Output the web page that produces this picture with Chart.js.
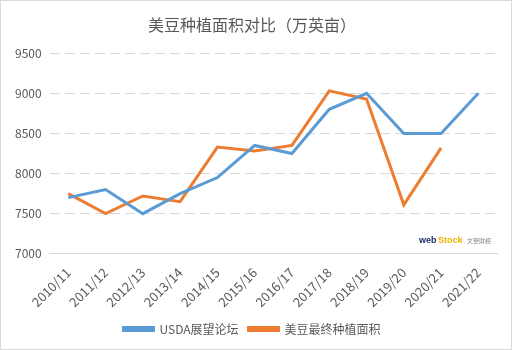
<!DOCTYPE html>
<html>
<head>
<meta charset="utf-8">
<script src="https://cdn.jsdelivr.net/npm/chart.js@4"></script>
<style>
  html, body { margin: 0; padding: 0; background: #fff; }
  #wrap { width: 510px; height: 348px; border: 1px solid #d9d9d9; }
</style>
</head>
<body>
<div id="wrap"><canvas id="areaChart" width="510" height="348"></canvas></div>
<script>
const seasons = ['2010/11', '2011/12', '2012/13', '2013/14', '2014/15', '2015/16',
                 '2016/17', '2017/18', '2018/19', '2019/20', '2020/21', '2021/22'];
const usdaForum = [7700, 7800, 7500, 7750, 7950, 8350, 8250, 8800, 9000, 8500, 8500, 9000];
const finalArea = [7750, 7500, 7720, 7650, 8330, 8280, 8350, 9030, 8930, 7610, 8320, null];
const yTicks = [7000, 7500, 8000, 8500, 9000, 9500];

const font = "'Noto Sans CJK SC', 'Open Sans', sans-serif";

// small watermark in the lower right corner
const watermark = {
    id: 'watermark',
    afterDraw(chart) {
        const c = chart.ctx, a = chart.chartArea;
        c.save();
        c.font = "bold 9px 'Liberation Sans', sans-serif";
        c.fillStyle = '#1f2f6b';
        c.fillText('web', a.right - 78, a.bottom - 13);
        c.fillStyle = '#e8b400';
        c.fillText('Stock', a.right - 59, a.bottom - 13);
        c.font = "6px " + font;
        c.fillStyle = '#888';
        c.fillText('文華財經', a.right - 30, a.bottom - 13);
        c.restore();
    }
};

const ctx = document.getElementById('areaChart').getContext('2d');
new Chart(ctx, {
    type: 'line',
    data: {
        labels: seasons,
        datasets: [{
            label: 'USDA展望论坛',
            data: usdaForum,
            borderColor: '#5B9BD5',
            backgroundColor: '#5B9BD5',
            borderWidth: 3,
            pointRadius: 0,
            tension: 0
        }, {
            label: '美豆最终种植面积',
            data: finalArea,
            borderColor: '#ED7D31',
            backgroundColor: '#ED7D31',
            borderWidth: 3,
            pointRadius: 0,
            tension: 0
        }]
    },
    options: {
        responsive: false,
        animation: false,
        layout: { padding: { left: 6, right: 14, top: 4, bottom: 4 } },
        plugins: {
            title: {
                display: true,
                text: '美豆种植面积对比（万英亩）',
                color: '#595959',
                font: { family: font, size: 16, weight: 'normal' },
                padding: { top: 10, bottom: 19 }
            },
            legend: {
                position: 'bottom',
                labels: {
                    color: '#595959',
                    font: { family: font, size: 12 },
                    boxWidth: 30,
                    boxHeight: 3,
                    padding: 10
                }
            },
            tooltip: { enabled: false }
        },
        scales: {
            x: {
                offset: true,
                grid: { display: false },
                border: { color: '#d9d9d9' },
                ticks: {
                    color: '#595959',
                    font: { family: font, size: 13 },
                    maxRotation: 45,
                    minRotation: 45,
                    autoSkip: false
                }
            },
            y: {
                min: 7000,
                max: 9500,
                afterBuildTicks: axis => { axis.ticks = yTicks.map(v => ({ value: v })); },
                grid: { color: '#d9d9d9', drawTicks: false },
                border: { display: true, color: 'rgba(0,0,0,0)', dash: [10, 5] },
                ticks: {
                    color: '#595959',
                    font: { family: font, size: 12 },
                    padding: 8,
                    callback: v => String(v)
                }
            }
        }
    },
    plugins: [watermark]
});
</script>
</body>
</html>
